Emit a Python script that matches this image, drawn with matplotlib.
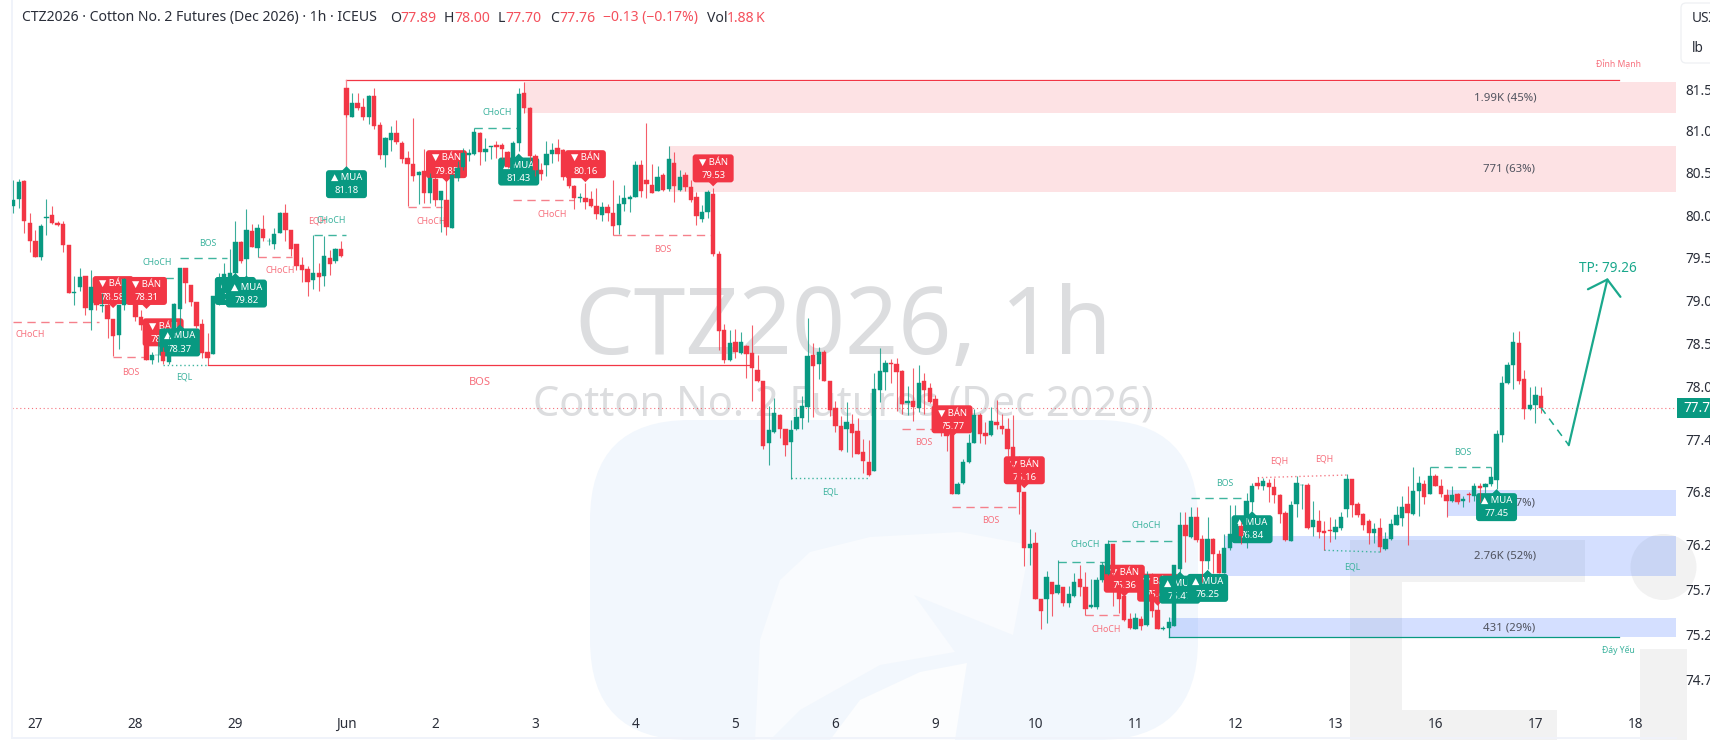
import matplotlib
matplotlib.use('Agg')
import matplotlib.pyplot as plt
from matplotlib.patches import FancyBboxPatch, Polygon, Rectangle, Circle
from matplotlib.transforms import IdentityTransform
from matplotlib.ticker import NullLocator, NullFormatter

plt.rcParams['font.family'] = ['Noto Sans', 'DejaVu Sans']

# hourly bars, 18 per session
opens = [
    80.11,80.19,80.40,79.91,79.70,79.51,79.97,80.00,79.91,79.89,
    79.65,79.09,79.16,79.28,78.89,79.11,78.93,78.95,78.78,78.60,
    78.95,79.17,78.97,78.81,78.70,78.31,78.36,78.40,78.28,78.62,
    78.90,79.38,79.18,78.98,78.73,78.40,78.38,78.97,79.13,79.24,
    79.32,79.68,79.48,79.81,79.61,79.84,79.70,79.66,79.79,80.03,
    79.82,79.66,79.41,79.37,79.24,79.32,79.29,79.49,79.46,79.60,
    81.51,81.17,81.33,81.29,81.17,81.42,81.07,80.71,80.89,80.98,
    80.85,80.68,80.60,80.47,80.52,80.26,80.43,80.18,80.18,79.85,
    80.44,80.57,80.71,80.72,80.98,80.75,80.81,80.83,80.83,80.75,
    80.60,80.86,81.45,81.28,80.70,80.54,80.59,80.73,80.80,80.77,
    80.44,80.35,80.20,80.20,80.19,80.11,80.00,80.10,80.03,79.88,
    80.13,80.19,80.22,80.59,80.41,80.36,80.28,80.47,80.31,
    80.62,80.30,80.47,80.33,80.21,79.95,80.04,80.25,79.54,78.66,78.31,
    78.52,78.39,78.47,78.39,78.19,78.07,77.35,77.48,77.68,77.52,
    77.37,77.51,77.64,77.77,78.36,78.26,78.40,78.06,77.75,77.55,
    77.52,77.57,77.49,77.25,77.14,77.04,77.96,78.17,78.27,78.26,
    78.18,77.81,77.83,77.75,78.06,77.98,77.86,77.59,77.47,77.47,
    76.78,76.90,77.14,77.36,77.67,77.47,77.45,77.60,77.55,77.52,
    77.31,77.10,76.80,76.16,76.22,75.59,75.60,75.78,75.66,75.73,
    75.55,75.63,75.82,75.73,75.50,75.50,75.81,75.87,76.21,75.74,
    75.63,75.37,75.26,75.37,75.31,75.63,75.47,75.26,75.27,75.29,
    75.93,76.42,76.29,76.52,76.27,76.02,76.27,76.10,75.89,76.16,
    76.33,76.41,
    76.52,76.68,76.90,76.86,76.90,76.85,76.76,76.56,
    76.24,76.66,76.88,76.88,76.40,76.47,76.36,76.37,76.35,76.39,
    76.60,76.95,76.66,76.55,76.47,76.34,76.39,76.15,76.27,76.42,
    76.50,76.66,76.55,76.81,76.89,76.77,76.98,76.87,76.76,76.69,
    76.78,76.70,76.77,76.75,76.86,76.85,76.89,76.93,77.45,78.04,
    78.25,78.51,78.09,77.74,77.79,77.89,
]
highs = [
    80.41,80.43,80.41,80.03,79.83,79.89,80.19,80.11,79.93,79.93,
    79.65,79.29,79.38,79.28,79.36,79.17,79.09,79.07,78.78,78.95,
    79.26,79.20,79.05,78.89,78.72,78.40,78.58,78.46,78.58,78.97,
    79.38,79.38,79.18,78.98,78.78,78.62,79.05,79.32,79.44,79.60,
    79.93,79.69,80.07,79.89,79.89,80.00,79.73,79.85,80.04,80.13,
    79.82,79.66,79.51,79.40,79.77,79.44,79.75,79.59,79.61,79.70,
    81.51,81.45,81.46,81.39,81.43,81.51,81.11,80.93,81.06,81.13,
    80.88,80.76,81.15,80.52,80.78,80.50,80.48,80.28,80.42,80.48,
    80.64,80.80,80.78,81.04,80.99,80.91,80.82,80.88,80.86,80.76,
    80.88,81.51,81.59,81.29,80.72,80.62,80.88,80.86,80.90,80.78,
    80.46,80.36,80.26,80.38,80.28,80.32,80.15,80.13,80.41,80.24,
    80.36,80.24,80.64,80.65,81.10,80.60,80.58,80.50,80.82,
    80.75,80.53,80.51,80.41,80.27,80.12,80.30,80.32,79.58,78.73,78.65,
    78.67,78.63,78.48,78.71,78.36,78.07,77.78,77.87,77.69,77.52,
    77.62,77.75,77.89,78.79,78.51,78.46,78.42,78.07,77.84,77.66,
    77.82,77.69,77.64,77.40,77.39,78.16,78.45,78.31,78.32,78.33,
    78.19,78.01,78.21,78.25,78.16,78.04,77.90,77.63,77.50,77.49,
    76.91,77.17,77.46,77.74,77.70,77.59,77.77,77.85,77.69,77.64,
    77.67,77.21,76.80,76.38,76.35,75.60,75.91,75.78,76.03,75.73,
    75.74,75.88,75.98,75.90,75.82,75.84,76.01,76.26,76.21,75.82,
    75.89,75.44,75.44,75.41,75.91,75.89,75.67,75.29,75.39,75.98,
    76.57,76.57,76.63,76.63,76.31,76.52,76.28,76.14,76.32,76.65,
    76.65,76.46,
    76.79,76.90,76.97,76.96,76.95,76.96,76.77,76.58,
    76.69,76.98,76.89,76.90,76.70,76.59,76.47,76.52,76.49,76.57,
    77.00,76.95,76.68,76.56,76.49,76.45,76.50,76.35,76.49,76.64,
    76.75,76.87,77.08,76.98,76.93,77.08,77.00,76.94,76.83,76.87,
    76.79,76.75,76.80,76.90,76.90,76.90,77.08,77.50,78.12,78.29,
    78.63,78.64,78.19,78.00,78.01,78.00,
]
lows = [
    80.02,80.08,79.79,79.57,79.51,79.47,79.76,79.89,79.87,79.57,
    79.09,78.95,79.11,78.83,78.65,78.89,78.86,78.56,78.35,78.44,
    78.89,79.03,78.76,78.66,78.31,78.26,78.29,78.26,78.26,78.58,
    78.70,78.97,78.93,78.68,78.33,78.25,78.38,78.95,79.05,79.20,
    79.26,79.44,79.28,79.62,79.51,79.69,79.65,79.60,79.79,79.70,
    79.52,79.36,79.22,79.05,79.13,79.11,79.17,79.30,79.44,79.51,
    81.17,81.17,81.25,81.13,81.08,81.02,80.67,80.57,80.76,80.84,
    80.62,80.11,80.40,80.13,80.14,80.14,80.11,79.80,79.76,79.85,
    80.40,80.54,80.64,80.71,80.59,80.64,80.66,80.68,80.66,80.56,
    80.54,80.76,81.21,80.64,80.46,80.42,80.46,80.62,80.64,80.42,
    80.32,80.07,80.16,80.07,80.09,79.95,79.93,79.93,79.76,79.78,
    80.05,80.04,80.22,80.22,80.20,80.26,80.28,80.28,80.28,
    80.15,80.29,80.28,80.15,79.88,79.92,79.97,79.52,78.42,78.27,78.30,
    78.33,78.38,78.10,77.83,78.05,77.29,77.10,77.47,77.41,77.21,
    76.95,77.50,77.52,77.59,77.65,78.09,78.07,77.66,77.48,77.26,
    77.25,77.20,77.23,77.01,76.98,77.04,77.82,77.96,78.04,77.72,
    77.69,77.68,77.61,77.71,77.69,77.81,77.52,77.44,77.26,76.77,
    76.77,76.89,77.13,77.35,77.35,77.34,77.44,77.51,77.46,77.21,
    77.06,76.55,75.96,75.97,75.59,75.26,75.33,75.41,75.65,75.52,
    75.51,75.62,75.63,75.42,75.49,75.48,75.78,75.86,75.52,75.44,
    75.35,75.26,75.26,75.25,75.29,75.39,75.26,75.25,75.26,75.29,
    75.89,76.01,76.28,76.23,75.78,75.93,75.89,75.89,75.89,76.14,
    76.31,76.21,
    76.16,76.58,76.83,76.82,76.68,76.67,76.45,76.24,
    76.24,76.52,76.60,76.38,76.30,76.28,76.14,76.23,76.27,76.37,
    76.52,76.52,76.52,76.37,76.21,76.22,76.12,76.14,76.26,76.42,
    76.41,76.20,76.54,76.53,76.66,76.77,76.86,76.74,76.52,76.68,
    76.66,76.63,76.68,76.70,76.68,76.79,76.87,76.83,77.37,78.03,
    77.97,78.03,77.63,77.73,77.58,77.70,
]
closes = [
    80.18,80.39,79.93,79.70,79.51,79.87,79.98,79.91,79.88,79.65,
    79.09,79.10,79.27,78.91,79.16,78.95,78.95,78.78,78.58,78.95,
    79.25,79.09,78.81,78.71,78.31,78.37,78.37,78.30,78.39,78.96,
    79.38,79.20,78.98,78.70,78.39,78.33,79.05,79.24,79.31,79.32,
    79.68,79.46,79.83,79.62,79.85,79.73,79.70,79.78,80.03,79.82,
    79.60,79.40,79.35,79.21,79.32,79.27,79.52,79.43,79.60,79.52,
    81.19,81.33,81.27,81.17,81.42,81.06,80.71,80.92,80.97,80.87,
    80.67,80.60,80.46,80.51,80.26,80.44,80.18,80.28,79.86,80.48,
    80.56,80.74,80.74,80.99,80.75,80.79,80.82,80.81,80.78,80.57,
    80.85,81.44,81.27,80.70,80.53,80.49,80.73,80.77,80.72,80.45,
    80.35,80.20,80.22,80.16,80.11,80.01,80.10,80.03,79.87,80.13,
    80.20,80.22,80.59,80.28,80.37,80.26,80.45,80.30,80.67,
    80.35,80.45,80.33,80.18,79.99,80.04,80.27,79.54,78.64,78.31,78.50,
    78.40,78.52,78.38,78.22,78.06,77.32,77.50,77.70,77.52,77.33,
    77.50,77.65,77.78,78.35,78.24,78.40,78.07,77.73,77.55,77.28,
    77.60,77.47,77.23,77.15,76.99,77.97,78.18,78.27,78.26,78.17,
    77.80,77.84,77.77,78.04,77.96,77.82,77.57,77.48,77.44,76.78,
    76.89,77.14,77.36,77.67,77.46,77.44,77.61,77.56,77.52,77.29,
    77.10,76.80,76.17,76.21,75.59,75.46,75.84,75.65,75.75,75.55,
    75.65,75.79,75.73,75.48,75.53,75.81,75.97,76.21,75.89,75.59,
    75.36,75.27,75.38,75.29,75.86,75.46,75.26,75.27,75.34,75.98,
    76.43,76.30,76.52,76.25,76.02,76.27,76.10,75.89,76.16,76.32,
    76.44,76.30,
    76.70,76.86,76.87,76.92,76.85,76.76,76.55,76.25,
    76.65,76.90,76.88,76.39,76.48,76.35,76.33,76.36,76.40,76.52,
    76.95,76.65,76.54,76.43,76.33,76.38,76.18,76.27,76.44,76.54,
    76.63,76.56,76.81,76.90,76.74,76.98,76.87,76.77,76.70,76.76,
    76.68,76.72,76.76,76.87,76.84,76.89,76.97,77.46,78.04,78.25,
    78.52,78.07,77.74,77.79,77.90,77.76,
]

day_labels = ['27','28','29','Jun','2','3','4','5','6','9','10','11','12','13','16','17','18']
day_bars = [4,22,40,60,76,94,112,130,148,166,184,202,220,238,256,274,292]
price_ticks = [81.5,81.0,80.5,80.0,79.5,79.0,78.5,78.0,77.4,76.8,76.2,75.7,75.2,74.7]

# supply / demand zones
zone_bar = [92,118,258,218,208]
zone_low = [81.21,80.275,76.53,75.85,75.17]
zone_high = [81.59,80.82,76.82,76.30,75.38]
zone_text = ['1.99K (45%)','771 (63%)','345 (37%)','2.76K (52%)','431 (29%)']
zone_text_bar = [268.5,269.2,269.2,268.5,269.2]
zone_kind = ['sell','sell','buy','buy','buy']

# structure lines
line_start = [0,18,27,27.4,30,44,54.2,71,83,90,108,140,160,169,188,197,212,193,224,236,255]
line_end = [15.5,24,35,30.2,38.5,50.2,60,77.2,91,101,126,154,166,181.5,196.5,209.7,222,199,240,246,266]
line_p0 = [78.75,78.34,78.25,79.26,79.50,79.51,79.76,80.10,81.04,80.18,79.76,76.96,77.51,76.63,76.01,76.24,76.73,75.42,76.96,76.14,77.08]
line_p1 = [78.75,78.34,78.25,79.26,79.50,79.51,79.76,80.10,81.04,80.18,79.76,76.96,77.51,76.63,76.01,76.24,76.73,75.42,76.99,76.12,77.08]
line_kind = ['r','r','gd','g','g','r','g','r','g','r','r','gd','r','r','g','g','g','r','rd','gd','g']

# tags next to the structure lines
tag_text = ['CHoCH','BOS','EQL','CHoCH','BOS','CHoCH','EQH','CHoCH','CHoCH','CHoCH','CHoCH','BOS','BOS','EQL','BOS','CHoCH','CHoCH','BOS','CHoCH','EQH','EQH','EQL','BOS']
tag_bar = [3,21.2,30.8,26,35.1,48,54.7,57.2,75.2,87.1,97,117,163.9,147,176,193,204,218.1,196.8,227.8,235.9,241,261]
tag_price = [78.60,78.16,78.11,79.44,79.67,79.35,79.93,79.94,79.93,81.22,80.01,79.59,77.36,76.80,76.48,76.21,76.42,76.89,75.26,77.15,77.17,75.95,77.25]
tag_side = ['r','r','g','g','g','r','r','g','r','g','r','r','r','g','r','g','g','g','r','r','r','g','g']

# buy / sell signals, in drawing order
signal_kind = ['sell','sell','sell','buy','buy','buy','buy','sell','buy','sell','sell','sell','sell','sell','sell','buy','buy','buy','buy']
signal_bar = [18,24,27,30,40,42,60,78,91,103,126,169,182,200,206,210,215,223,267]
signal_tip = [78.91,78.90,78.42,78.72,79.32,79.29,80.58,80.39,80.73,80.39,80.34,77.42,76.84,75.62,75.52,75.90,75.92,76.58,76.83]
signal_value = ['78.58','78.31','78.06','78.37','79.43','79.82','81.18','79.85','81.43','80.16','79.53','75.77','75.16','75.36','75.44','75.47','76.25','76.84','77.45']

UP = '#089981'
DOWN = '#F23645'
W, H = 1710, 740

fig = plt.figure(figsize=(W/100, H/100), dpi=100, facecolor='white')
ax = fig.add_axes([12/W, 2/H, (1676-12)/W, 738/H])
ax.patch.set_visible(False)
ax.set_yscale('log')
ax.set_xlim(-0.2, 299.3)
ax.set_ylim(74.06, 82.58)


def flip(pts):
    return [(x, H - y) for x, y in pts]


def back_poly(pts, color, z=-3):
    fig.add_artist(Polygon(flip(pts), closed=True, fc=color, ec='none', transform=IdentityTransform(), zorder=z))


# logo behind everything
fig.add_artist(FancyBboxPatch((590+100, 0+100), 608-200, 220-100, boxstyle='round,pad=100,rounding_size=100',
                              fc='#F2F7FD', ec='none', transform=IdentityTransform(), zorder=-4))
back_poly([(755,740),(760,640),(780,580),(810,552),(870,537),(960,532),(1030,545),(1013,635),(914,595),
           (955,652),(880,665),(800,710),(770,740)], '#F9FBFE')
back_poly([(830,740),(860,700),(920,672),(967,663),(955,740)], '#FCFDFE')
back_poly([(1350,540),(1585,540),(1585,582),(1402,582),(1402,710),(1557,710),(1557,740),(1350,740)], '#F2F2F2')
back_poly([(1640,649),(1687,649),(1687,740),(1640,740)], '#F2F2F2')
fig.add_artist(Circle((1663.5, H-567), 33, fc='#F2F2F2', ec='none', transform=IdentityTransform(), zorder=-3))

fig.text(843/W, 1-330/H, 'CTZ2026, 1h', fontsize=67, color='#DCDDDF', ha='center', va='center', zorder=-2)
fig.text(843/W, 1-405/H, 'Cotton No. 2 Futures (Dec 2026)', fontsize=30, color='#DCDDDF', ha='center', va='center', zorder=-2)

# zones
right = ax.get_xlim()[1]
for b, lo, hi, t, tb, k in zip(zone_bar, zone_low, zone_high, zone_text, zone_text_bar, zone_kind):
    c = DOWN if k == 'sell' else '#2962FF'
    ax.fill_between([b, right], lo, hi, color=c, alpha=0.14 if k == 'sell' else 0.2, lw=0, zorder=1)
    ax.text(tb, (lo*hi)**0.5, t, fontsize=8.2, color='#50535E', ha='center', va='center', zorder=1.2)

# swing high / low and big BOS
ax.plot([60, 289], [81.61, 81.61], color=DOWN, lw=0.9, zorder=1.5)
ax.plot([60, 60], [81.61, 80.58], color='#F7848F', lw=0.9, zorder=1.5)
ax.plot([208, 289], [75.17, 75.17], color=UP, lw=0.9, zorder=1.5)
ax.plot([208, 208], [75.17, 75.30], color=UP, lw=0.9, zorder=1.5)
ax.plot([35, 133], [78.25, 78.25], color=DOWN, lw=0.9, zorder=1.5)
ax.text(84, 78.05, 'BOS', fontsize=8, color='#F7707D', ha='center', va='center')
ax.text(289, 81.80, 'Đỉnh Mạnh', fontsize=6.2, color='#F7707D', ha='center', va='center')
ax.text(289, 75.02, 'Đáy Yếu', fontsize=6.2, color='#3DB39E', ha='center', va='center')

# dashed / dotted structure
for x0, x1, p0, p1, k in zip(line_start, line_end, line_p0, line_p1, line_kind):
    c = '#F5808B' if k[0] == 'r' else '#40B59F'
    ls = (0, (1, 2)) if k.endswith('d') else (0, (6, 4))
    ax.plot([x0, x1], [p0, p1], color=c, lw=1.0, ls=ls, zorder=1.6)
for t, b, p, s in zip(tag_text, tag_bar, tag_price, tag_side):
    ax.text(b, p, t, fontsize=6.3, color='#F7707D' if s == 'r' else '#3DB39E', ha='center', va='center', zorder=1.7)

# last price line
ax.axhline(77.76, color='#F23645', lw=0.8, ls=(0, (1, 2.5)), alpha=0.7, zorder=1.8)

# signal boxes sit under the candles
for n, (k, b, tip, v) in enumerate(zip(signal_kind, signal_bar, signal_tip, signal_value)):
    z = 2 + n*0.01
    px, py = ax.transData.transform((b, tip))
    c = DOWN if k == 'sell' else UP
    if k == 'sell':
        y0 = py + 4
        tri = [(px-5, y0+1), (px+5, y0+1), (px, py)]
        txt = '▼ BÁN\n' + v
    else:
        y0 = py - 4 - 28
        tri = [(px-5, py-5), (px+5, py-5), (px, py)]
        txt = '▲ MUA\n' + v
    ax.add_patch(FancyBboxPatch((px-20.5, y0), 41, 28, boxstyle='round,pad=0,rounding_size=3', fc=c, ec='none',
                                transform=IdentityTransform(), zorder=z))
    ax.add_patch(Polygon(tri, closed=True, fc=c, ec='none', transform=IdentityTransform(), zorder=z))
    ax.annotate(txt, xy=(b, tip), xytext=(0, (y0+14) - py), textcoords='offset pixels', ha='center', va='center',
                fontsize=6.8, color='white', fontweight='bold', linespacing=1.6, zorder=z+0.005)

# candles
for i in range(len(opens)):
    o, h, l, c = opens[i], highs[i], lows[i], closes[i]
    col = UP if c >= o else DOWN
    ax.plot([i, i], [l, h], color=col, lw=0.8, alpha=0.8, solid_capstyle='butt', zorder=3)
    bot, top = min(o, c), max(o, c)
    ax.add_patch(Rectangle((i-0.39, bot), 0.78, top-bot, fc=col, ec=col, lw=0.3, zorder=3.1))

# forecast
ax.plot([275, 280], [77.76, 77.33], color='#1AA88C', lw=1.1, ls=(0, (5, 4)), zorder=3.2)
ax.annotate('', xy=(287, 79.26), xytext=(280, 77.33), zorder=3.2,
            arrowprops=dict(arrowstyle='->,head_length=0.5,head_width=0.6', color='#1AA88C', lw=1.6,
                            shrinkA=0, shrinkB=0, mutation_scale=20))
ax.text(287, 79.37, 'TP: 79.26', fontsize=9.8, color='#1AA88C', ha='center', va='center', zorder=3.2)

# axes
ax.yaxis.tick_right()
ax.set_yticks(price_ticks)
ax.set_yticklabels(['%.2f' % p for p in price_ticks])
ax.yaxis.set_minor_locator(NullLocator())
ax.yaxis.set_minor_formatter(NullFormatter())
ax.tick_params(axis='y', length=0, pad=7, labelsize=9.8, labelcolor='#2A2E39')
ax.set_xticks(day_bars)
ax.set_xticklabels(day_labels)
ax.tick_params(axis='x', length=0, pad=-15, labelsize=9.8, labelcolor='#2A2E39')
ax.get_xticklabels()[day_labels.index('Jun')].set_fontweight('bold')
for s in ['top', 'right']:
    ax.spines[s].set_visible(False)
ax.spines['left'].set_color('#F0F3FA')
ax.spines['bottom'].set_color('#F0F3FA')
ax.spines['left'].set_linewidth(1.4)
ax.spines['bottom'].set_linewidth(1.4)

# last price tag
ax.add_patch(Rectangle((1677, H-418), 40, 20, fc=UP, ec='none', transform=IdentityTransform(), zorder=5, clip_on=False))
fig.text(1683/W, 1-408/H, '77.76', fontsize=9.8, color='white', fontweight='bold', va='center', zorder=6)

# unit box, top right
fig.add_artist(FancyBboxPatch((1681, H-63), 60, 60, boxstyle='round,pad=0,rounding_size=5', fc='white', ec='#EEF0F3', lw=0.9,
                              transform=IdentityTransform(), zorder=4))
fig.text(1692/W, 1-18/H, 'USX', fontsize=9.8, color='#2A2E39', va='center', zorder=6)
fig.text(1692/W, 1-48/H, 'lb', fontsize=9.8, color='#2A2E39', va='center', zorder=6)

# header
HEAD = '#2A2E39'
HRED = '#F4505C'
hy = 1-18/H
fig.text(22/W, hy, 'CTZ2026 · Cotton No. 2 Futures (Dec 2026) · 1h · ICEUS', fontsize=10.1, color=HEAD, va='center')
for x, xv, a, b in [(390, 400, 'O', '77.89'), (444, 454, 'H', '78.00'), (498, 505, 'L', '77.70'), (550, 559, 'C', '77.76')]:
    fig.text(x/W, hy, a, fontsize=10.1, color=HEAD, va='center')
    fig.text(xv/W, hy, b, fontsize=10.1, color=HRED, va='center')
fig.text(603/W, hy, '−0.13 (−0.17%)', fontsize=10.1, color=HRED, va='center')
fig.text(707/W, hy, 'Vol', fontsize=10.1, color=HEAD, va='center')
fig.text(727/W, hy, '1.88', fontsize=10.1, color=HRED, va='center')
fig.text(756/W, hy, 'K', fontsize=10.1, color=HRED, va='center')

fig.savefig('out.png', dpi=100)
